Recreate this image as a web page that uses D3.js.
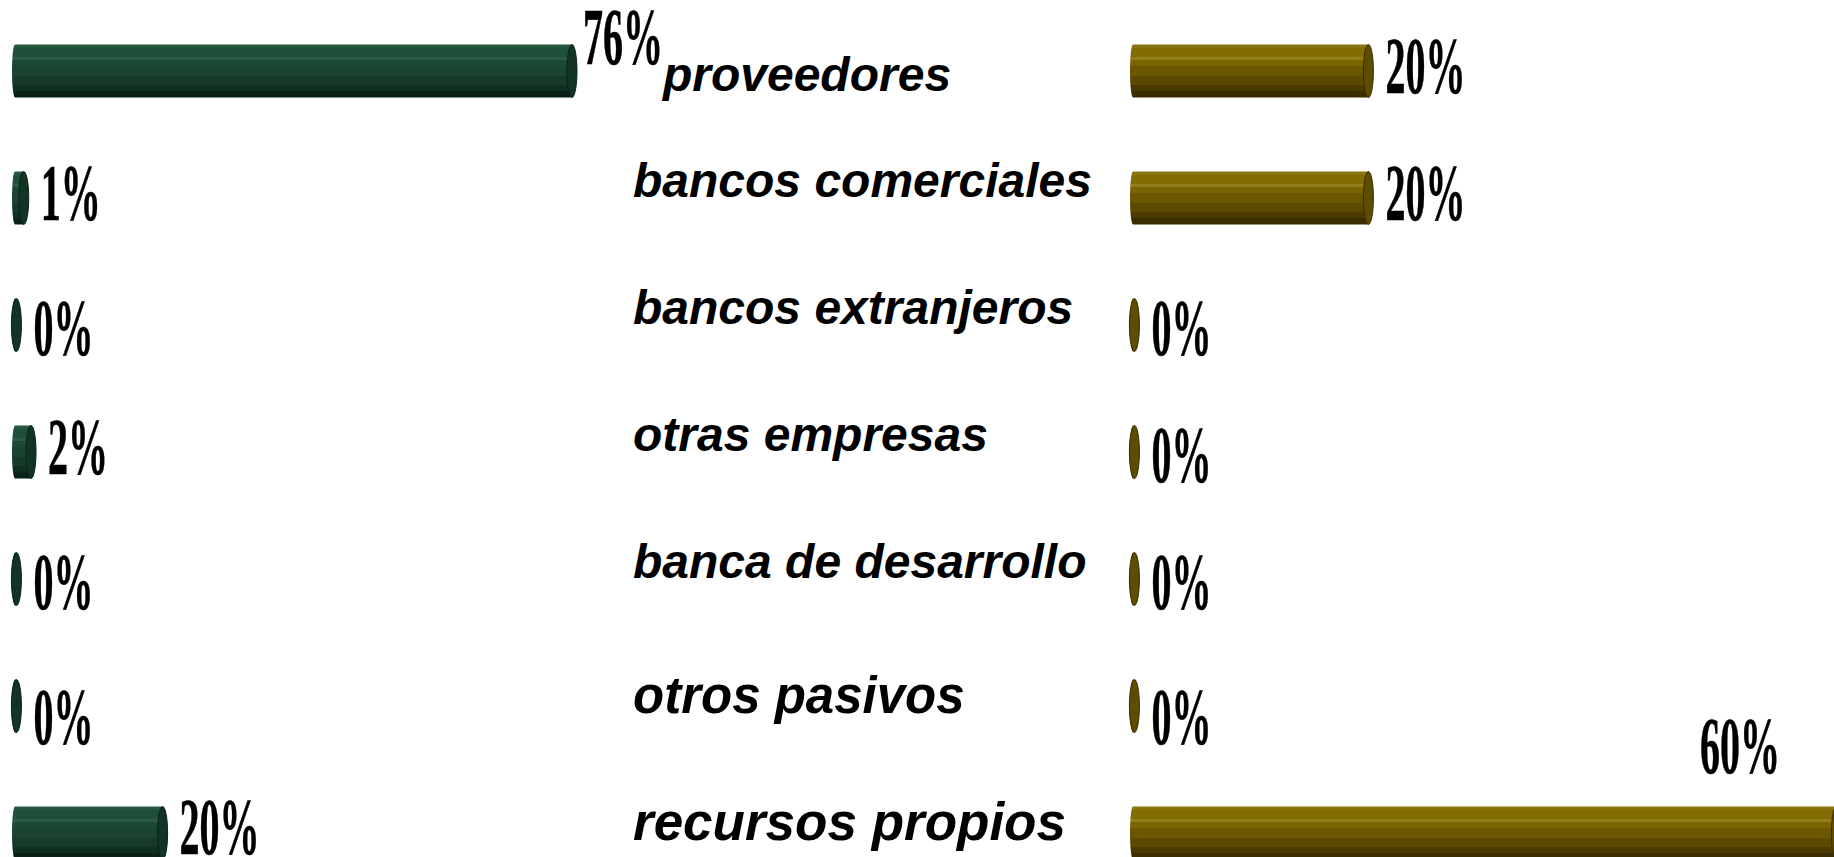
<!DOCTYPE html>
<html>
<head>
<meta charset="utf-8">
<script src="https://cdn.jsdelivr.net/npm/d3@7"></script>
<style>
  body { margin: 0; background: #fff; overflow: hidden; }
  .cat { font-family: "Liberation Sans", Arial, sans-serif; font-weight: bold; font-style: italic; fill: #000; }
  .val { font-family: "Liberation Serif", "Times New Roman", serif; font-weight: bold; font-size: 80px; fill: #000; stroke: #000; stroke-width: 0.6px; }
</style>
</head>
<body>
<svg id="chart" width="1834" height="857"></svg>
<script>
// data
var categories = ['proveedores', 'bancos comerciales', 'bancos extranjeros', 'otras empresas',
                  'banca de desarrollo', 'otros pasivos', 'recursos propios'];
var leftValues = [76, 1, 0, 2, 0, 0, 20];
var rightValues = [20, 20, 0, 0, 0, 0, 60];

var svg = d3.select('#chart');
var width = +svg.attr('width');
var height = +svg.attr('height');

var barH = 53, capRx = 5, capExtra = 9.4;
var catX = 633;
var sx = 0.5;   // value labels are drawn squeezed

// the two bottom rows sit a little lower and larger in the original
function rowShift(i) { return i >= 5 ? 8 : 0; }
function catSize(i) { return i === 6 ? 53 : (i === 5 ? 51 : 48); }

var y = d3.scalePoint().domain(categories).range([71, 833]);
var xLeft = d3.scaleLinear().domain([0, 100]).range([12, 743]);
var xRight = d3.scaleLinear().domain([0, 100]).range([1130, 2300]);

// banded cylinder shading
var greenBands = ['#27563f', '#1e4f38', '#1e4f38', '#1e4f38', '#2a5a43', '#1c4934', '#1c4934', '#1a4430', '#1a4430',
                  '#1a4430', '#153a28', '#153a28', '#153a28', '#112f21', '#112f21', '#0b2117', '#0b2117'];
var goldBands = ['#8a7410', '#826d00', '#826d00', '#826d00', '#927d1c', '#7a6500', '#7a6500', '#6b5700', '#6b5700',
                 '#6b5700', '#5b4900', '#5b4900', '#5b4900', '#4a3a00', '#4a3a00', '#3a2d00', '#3a2d00'];

var defs = svg.append('defs');
function makeGrad(id, bands) {
  var g = defs.append('linearGradient').attr('id', id)
      .attr('x1', 0).attr('y1', 0).attr('x2', 0).attr('y2', 1);
  var n = bands.length;
  bands.forEach(function (c, i) {
    g.append('stop').attr('offset', i / n).attr('stop-color', c);
    g.append('stop').attr('offset', (i + 1) / n).attr('stop-color', c);
  });
}
makeGrad('gGreen', greenBands);
makeGrad('gGold', goldBands);

function barPath(x0, x1, cy) {
  var t = cy - barH / 2, b = cy + barH / 2, r = barH / 2;
  var xe = Math.max(x1 - capRx, x0 + 3);
  return 'M' + (x0 + 3) + ',' + t + 'L' + xe + ',' + t +
         'L' + xe + ',' + b + 'L' + (x0 + 3) + ',' + b +
         'A3,' + r + ' 0 0 1 ' + (x0 + 3) + ',' + t + 'Z';
}

function drawSeries(values, x, grad, capFill, capStroke, cls) {
  var g = svg.append('g').attr('class', cls);
  var rows = categories.map(function (c, i) { return { cat: c, v: values[i], i: i }; });
  var x0 = x(0);

  g.selectAll('path.body').data(rows).enter().append('path')
    .attr('class', 'body')
    .attr('d', function (d) { return barPath(x0, x(d.v) + capExtra, y(d.cat)); })
    .attr('fill', 'url(#' + grad + ')');

  g.selectAll('ellipse.cap').data(rows).enter().append('ellipse')
    .attr('class', 'cap')
    .attr('cx', function (d) { return Math.max(x(d.v) + capExtra - capRx, x0 + 3); })
    .attr('cy', function (d) { return y(d.cat); })
    .attr('rx', capRx)
    .attr('ry', barH / 2)
    .attr('fill', capFill)
    .attr('stroke', capStroke)
    .attr('stroke-width', 1);

  var labels = g.selectAll('text.val').data(rows).enter().append('text')
    .attr('class', 'val')
    .text(function (d) { return d.v + '%'; });

  labels.each(function (d) {
    var t = d3.select(this);
    var w = this.getComputedTextLength() * sx;
    var lx = x(d.v) + capExtra + 12;
    var ly = Math.min(y(d.cat) + (d.v > 0 ? 22 : 30) + rowShift(d.i), height - 3);
    var anchor = 'start';
    if (lx + w > width) {
      // no room to the right: put it above the bar end
      lx = width - 54;
      ly = y(d.cat) - barH / 2 - 34;
      anchor = 'end';
    }
    d.lx = lx; d.ly = ly; d.w = w;
    t.attr('text-anchor', anchor)
     .attr('transform', 'translate(' + lx + ',' + ly + ') scale(' + sx + ',1)');
  });
  return rows;
}

var leftRows = drawSeries(leftValues, xLeft, 'gGreen', '#123426', '#0b2117', 'left');
drawSeries(rightValues, xRight, 'gGold', '#5e4c00', '#3a2d00', 'right');

function crowded(d) { return d.lx + d.w > catX - 4; }

// a crowded value label hugs its bar and sits higher
svg.selectAll('.left text.val')
  .filter(crowded)
  .each(function (d) { d.lx -= 6; })
  .attr('transform', function (d) { return 'translate(' + d.lx + ',' + (d.ly - 29) + ') scale(' + sx + ',1)'; });

// category labels in the middle; a long left bar pushes its label along
svg.append('g').selectAll('text.cat').data(leftRows).enter().append('text')
  .attr('class', 'cat')
  .style('font-size', function (d) { return catSize(d.i) + 'px'; })
  .each(function (d) {
    var tx = catX, ty = y(d.cat) - 1 + rowShift(d.i);
    if (crowded(d)) {
      tx = d.lx + d.w;
      ty += 21;
    }
    d3.select(this).attr('x', tx).attr('y', ty);
  })
  .text(function (d) { return d.cat; });
</script>
</body>
</html>
